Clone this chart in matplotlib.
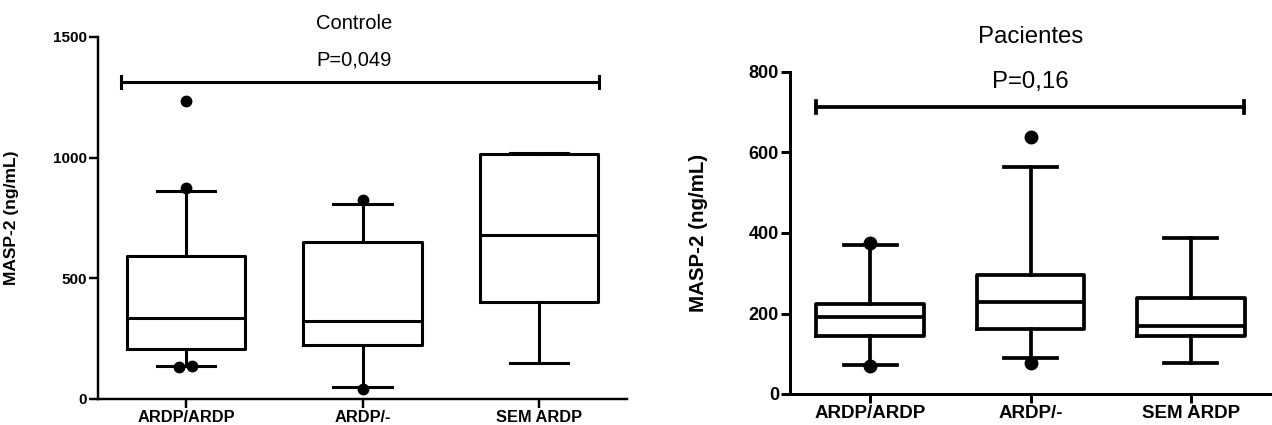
import matplotlib
matplotlib.use("Agg")
import matplotlib.pyplot as plt

plt.rcParams['font.family'] = ['Liberation Sans', 'DejaVu Sans']

categories = ["ARDP/ARDP", "ARDP/-", "SEM ARDP"]

# Controle
ctrl_q1 = [209, 223, 402]
ctrl_med = [334, 323, 681]
ctrl_q3 = [594, 650, 1015]
ctrl_wlo = [138, 51, 151]
ctrl_whi = [861, 806, 1021]
ctrl_fliers = [[1236, 874, 131, 138], [826, 41], []]
ctrl_p = "P=0,049"

# Pacientes
pac_q1 = [143, 162, 143]
pac_med = [191, 228, 168]
pac_q3 = [224, 295, 239]
pac_wlo = [73, 90, 76]
pac_whi = [371, 564, 387]
pac_fliers = [[376, 70], [638, 77], []]
pac_p = "P=0,16"

# style: horizontal jitter of flier dots (category units)
ctrl_flier_dx = [[0, 0, -0.04, 0.035], [0, 0], []]
pac_flier_dx = [[0, 0], [0, 0], []]

fig = plt.figure(figsize=(12.72, 4.25), dpi=100)
axL = fig.add_axes([98/1272, 1-399/425, 529/1272, 362/425])
axR = fig.add_axes([790/1272, 1-394/425, 481/1272, 322/425])


def draw(ax, q1, med, q3, wlo, whi, fliers, fdx, ylim, yticks, lw, ms,
         title, ptxt, bar_y, bar_x, bar_h, p_y, t_y, txt_x, fs_tick, fs_lab,
         fs_ylab, fs_title, ylab_x):
    stats = []
    for i in range(len(categories)):
        stats.append(dict(q1=q1[i], med=med[i], q3=q3[i], whislo=wlo[i],
                          whishi=whi[i], fliers=[], label=categories[i]))
    pos = list(range(len(categories)))
    lp = dict(color='black', linewidth=lw)
    ax.bxp(stats, positions=pos, widths=0.67, showfliers=False,
           boxprops=lp, whiskerprops=lp, capprops=lp,
           medianprops=dict(color='black', linewidth=lw), capwidths=0.33,
           manage_ticks=False)
    for i, fl in enumerate(fliers):
        for v, dx in zip(fl, fdx[i]):
            ax.plot(pos[i] + dx, v, 'o', color='black', ms=ms, zorder=5)
    ax.set_xlim(-0.5, 2.5)
    ax.set_ylim(*ylim)
    ax.set_yticks(yticks)
    ax.set_xticks(pos)
    ax.set_xticklabels(categories, fontweight='bold', fontsize=fs_lab)
    for lab in ax.get_yticklabels():
        lab.set_fontweight('bold')
        lab.set_fontsize(fs_tick)
    ax.spines['top'].set_visible(False)
    ax.spines['right'].set_visible(False)
    ax.spines['left'].set_linewidth(lw * 0.8)
    ax.spines['bottom'].set_linewidth(lw * 0.8)
    ax.tick_params(axis='both', length=6.5, width=lw * 0.8, pad=1.5)
    ax.set_ylabel("MASP-2 (ng/mL)", fontweight='bold', fontsize=fs_ylab)
    ax.yaxis.set_label_coords(ylab_x, 0.5)
    # significance bar
    ax.plot(bar_x, [bar_y, bar_y], color='black', lw=lw, clip_on=False)
    for bx in bar_x:
        ax.plot([bx, bx], [bar_y - bar_h, bar_y + bar_h], color='black',
                lw=lw, clip_on=False)
    ax.text(txt_x, p_y, ptxt, ha='center', va='center', fontsize=fs_title,
            clip_on=False)
    ax.text(txt_x, t_y, title, ha='center', va='center', fontsize=fs_title,
            clip_on=False)


draw(axL, ctrl_q1, ctrl_med, ctrl_q3, ctrl_wlo, ctrl_whi, ctrl_fliers,
     ctrl_flier_dx, (0, 1500), [0, 500, 1000, 1500], 2.2, 7.5,
     "Controle", ctrl_p, 1314, [-0.37, 2.34], 25, 1403, 1558, 0.95,
     11, 11.8, 12.5, 14.5, -0.15)

draw(axR, pac_q1, pac_med, pac_q3, pac_wlo, pac_whi, pac_fliers,
     pac_flier_dx, (0, 800), [0, 200, 400, 600, 800], 2.7, 9,
     "Pacientes", pac_p, 712, [-0.34, 2.33], 15, 775, 887, 1.0,
     13, 13.5, 14.8, 17.3, -0.17)

fig.savefig("out.png", dpi=100)
